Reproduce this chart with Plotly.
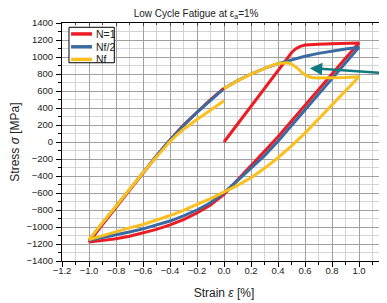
import plotly.graph_objects as go

# ---- data (strain %, stress MPa) ----
n1_strain = [0.0, 0.1, 0.2, 0.3, 0.4, 0.45, 0.5, 0.53, 0.56, 0.6, 0.65, 0.7, 0.8, 0.9, 1.0,
             0.9, 0.8, 0.7, 0.6, 0.5, 0.4, 0.3, 0.2, 0.1, 0.0,
             -0.1, -0.2, -0.3, -0.4, -0.5, -0.6, -0.7, -0.8, -0.9, -1.0,
             -0.9, -0.8, -0.7, -0.6, -0.5, -0.45, -0.4, -0.35, -0.3, -0.2, -0.1, 0.0]
n1_stress = [0, 212, 424, 636, 848, 955, 1050, 1095, 1122, 1140, 1148, 1151, 1156, 1160, 1165,
             985, 800, 615, 430, 245, 62, -110, -275, -445, -615,
             -740, -835, -912, -975, -1028, -1072, -1108, -1137, -1160, -1178,
             -972, -768, -565, -362, -165, -70, 25, 113, 198, 355, 500, 635]

half_strain = [0.0, 0.1, 0.2, 0.3, 0.4, 0.5, 0.6, 0.7, 0.8, 0.9, 1.0,
               0.9, 0.8, 0.7, 0.6, 0.5, 0.4, 0.3, 0.2, 0.1, 0.0,
               -0.1, -0.2, -0.3, -0.4, -0.5, -0.6, -0.7, -0.8, -0.9, -1.0,
               -0.9, -0.8, -0.7, -0.6, -0.5, -0.45, -0.4, -0.35, -0.3, -0.2, -0.1, -0.01]
half_stress = [630, 722, 800, 866, 922, 966, 1008, 1043, 1070, 1094, 1115,
               930, 745, 560, 375, 190, 10, -160, -310, -455, -595,
               -715, -800, -870, -930, -980, -1022, -1058, -1090, -1120, -1155,
               -955, -755, -555, -355, -160, -68, 25, 112, 195, 350, 495, 615]

nf_strain = [0.0, 0.1, 0.2, 0.3, 0.35, 0.4, 0.45, 0.475, 0.5, 0.525, 0.55, 0.575, 0.6, 0.625,
             0.65, 0.7, 0.8, 0.9, 1.0,
             0.9, 0.8, 0.7, 0.6, 0.5, 0.4, 0.3, 0.2, 0.1, 0.0,
             -0.1, -0.2, -0.3, -0.4, -0.5, -0.6, -0.7, -0.8, -0.9, -1.0,
             -0.9, -0.8, -0.7, -0.6, -0.5, -0.45, -0.4, -0.35, -0.3, -0.2, -0.1, 0.0]
nf_stress = [628, 720, 798, 866, 898, 924, 935, 932, 918, 893, 860, 822, 790, 770,
             760, 752, 752, 758, 768,
             600, 430, 265, 105, -45, -185, -310, -420, -510, -590,
             -665, -735, -805, -865, -920, -970, -1010, -1055, -1100, -1148,
             -950, -752, -555, -362, -175, -83, 5, 82, 150, 265, 380, 485]

series_names = ["N=1", "Nf/2", "Nf"]
series_colors = ["#ec1c24", "#3b6aa0", "#fcc01e"]

x_ticks = [-1.2, -1.0, -0.8, -0.6, -0.4, -0.2, 0.0, 0.2, 0.4, 0.6, 0.8, 1.0, 1.2]
x_tick_text = ["\u22121.2", "\u22121.0", "\u22120.8", "\u22120.6", "\u22120.4", "\u22120.2",
               "0.0", "0.2", "0.4", "0.6", "0.8", "1.0", "1.2"]
y_ticks = list(range(-1400, 1401, 200))
y_tick_text = [("\u2212" + str(-v)) if v < 0 else str(v) for v in y_ticks]

FONT = "Liberation Sans, Arial, sans-serif"

fig = go.Figure()
for name, xs, ys, col in zip(series_names,
                             [n1_strain, half_strain, nf_strain],
                             [n1_stress, half_stress, nf_stress],
                             series_colors):
    fig.add_trace(go.Scatter(x=xs, y=ys, mode="lines", name=name, showlegend=False,
                             line=dict(color=col, width=3)))

# dummy trace for mirrored (inward-tick) top/right axes
fig.add_trace(go.Scatter(x=[None], y=[None], xaxis="x2", yaxis="y2",
                         showlegend=False, hoverinfo="skip"))

axis_common = dict(showline=True, linecolor="black", linewidth=1, automargin=False,
                   ticks="outside", ticklen=5, tickwidth=1, tickcolor="black",
                   tickfont=dict(family=FONT, size=9.5, color="#222"),
                   showgrid=True, gridcolor="#a0a0a0", gridwidth=1, zeroline=False)

# the page body adds an 8px offset; margins compensate so the plot lands where the reference has it
fig.update_layout(
    width=387, height=303,
    margin=dict(l=54, r=9, t=15, b=50),
    paper_bgcolor="white", plot_bgcolor="white",
    title=dict(text="Low Cycle Fatigue at \u03b5<sub>a</sub>=1%", x=0.486, xanchor="center",
               y=0.982, yanchor="middle", font=dict(family=FONT, size=10, color="#222"),
               automargin=False),
    xaxis=dict(range=[-1.2, 1.2], tickvals=x_ticks, ticktext=x_tick_text, ticklabelstandoff=-4,
               minor=dict(dtick=0.1, tick0=0, ticks="outside", ticklen=3, tickcolor="black",
                          showgrid=True, gridcolor="#d4d4d4"),
               title=dict(text="Strain <i>\u03b5</i> [%]", standoff=13,
                          font=dict(family=FONT, size=12, color="#222")),
               **axis_common),
    yaxis=dict(range=[-1400, 1400], tickvals=y_ticks, ticktext=y_tick_text, ticklabelstandoff=1,
               minor=dict(dtick=100, tick0=0, ticks="outside", ticklen=3, tickcolor="black",
                          showgrid=True, gridcolor="#d4d4d4"),
               title=dict(text="Stress <i>\u03c3</i> [MPa]", standoff=5,
                          font=dict(family=FONT, size=12, color="#222")),
               **axis_common),
    xaxis2=dict(range=[-1.2, 1.2], overlaying="x", side="top", automargin=False,
                showline=True, linecolor="black", ticks="inside", ticklen=3,
                tickvals=x_ticks, showticklabels=False, showgrid=False, zeroline=False,
                minor=dict(dtick=0.1, tick0=0, ticks="inside", ticklen=2, showgrid=False)),
    yaxis2=dict(range=[-1400, 1400], overlaying="y", side="right", automargin=False,
                showline=True, linecolor="black", ticks="inside", ticklen=3,
                tickvals=y_ticks, showticklabels=False, showgrid=False, zeroline=False,
                minor=dict(dtick=100, tick0=0, ticks="inside", ticklen=2, showgrid=False)),
    showlegend=False,
)

# ---- manual legend box (paper coordinates) ----
fig.add_shape(type="rect", xref="paper", yref="paper", x0=0.0216, x1=0.1614, y0=0.833, y1=0.982,
              line=dict(color="black", width=1), fillcolor="white", layer="above")
legend_rows = [0.954, 0.900, 0.847]
for name, col, yy in zip(series_names, series_colors, legend_rows):
    fig.add_shape(type="line", xref="paper", yref="paper", x0=0.028, x1=0.0926, y0=yy, y1=yy,
                  line=dict(color=col, width=3.5), layer="above")
    fig.add_annotation(x=0.0997, y=yy, xref="paper", yref="paper", text=name, showarrow=False,
                       xanchor="left", yanchor="middle",
                       font=dict(family=FONT, size=10.5, color="#222"))

fig.add_annotation(x=0.635, y=869, xref="x", yref="y",
                   ax=1.34, ay=795, axref="x", ayref="y",
                   showarrow=True, arrowhead=2, arrowsize=1, arrowwidth=2.5,
                   arrowcolor="#127a7e", text="")

fig.write_html("out.html")
